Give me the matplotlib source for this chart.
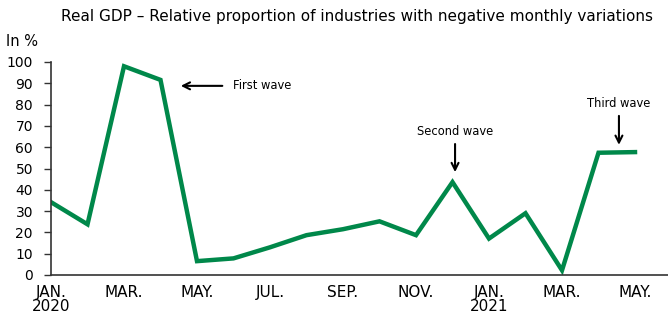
import matplotlib
matplotlib.use("Agg")
import matplotlib.pyplot as plt

months = ["JAN.\n2020", "FEB.", "MAR.", "APR.", "MAY.", "JUN.", "JUL.", "AUG.", "SEP.", "OCT.",
          "NOV.", "DEC.", "JAN.\n2021", "FEB.", "MAR.", "APR.", "MAY."]
values = [34.2, 23.8, 98.0, 91.6, 6.5, 7.8, 13.0, 18.7, 21.5, 25.2, 18.7, 43.6, 17.1, 29.0, 2.2, 57.4, 57.7]
yticks = list(range(0, 101, 10))

plt.rcParams['font.family'] = ['DejaVu Sans']

fig = plt.figure(figsize=(6.68, 3.16), dpi=100)
ax = fig.add_axes([51/668, 1-275/316, (668-51)/668, (275-62)/316])

x = list(range(len(values)))
ax.plot(x, values, color="#00884A", lw=3.2, solid_joinstyle="miter")

ax.set_xlim(0, (668-51)/36.5)
ax.set_ylim(0, 100)
ax.set_yticks(yticks)
ax.set_yticklabels([str(t) for t in yticks], fontsize=10)
ax.set_xticks(x[::2])
ax.set_xticklabels(months[::2], fontsize=11, linespacing=0.9)
ax.tick_params(axis='y', length=5, width=1, color="#333333", pad=8)
ax.tick_params(axis='x', length=0, pad=7)
for s in ["top", "right"]:
    ax.spines[s].set_visible(False)
ax.spines["left"].set_color("#333333")
ax.spines["bottom"].set_color("#333333")
ax.spines["left"].set_linewidth(1.2)
ax.spines["bottom"].set_linewidth(1.2)

fig.text(357/668, 1-16/316, "Real GDP \u2013 Relative proportion of industries with negative monthly variations",
         ha="center", va="center", fontsize=11)
fig.text(6/668, 1-41/316, "In %", ha="left", va="center", fontsize=10.5)

arrowprops = dict(arrowstyle="->,head_length=0.5,head_width=0.25", color="black", lw=1.5)
ax.annotate("", xy=(3.48, 88.8), xytext=(4.77, 88.8), arrowprops=arrowprops)
ax.text(4.98, 89.2, "First wave", fontsize=8.3, va="center", ha="left")
ax.annotate("", xy=(11.07, 47.0), xytext=(11.07, 62.8), arrowprops=arrowprops)
ax.text(11.07, 67.5, "Second wave", fontsize=8.3, va="center", ha="center")
ax.annotate("", xy=(15.56, 59.8), xytext=(15.56, 76.0), arrowprops=arrowprops)
ax.text(15.56, 80.5, "Third wave", fontsize=8.3, va="center", ha="center")

fig.savefig("out.png", dpi=100)
